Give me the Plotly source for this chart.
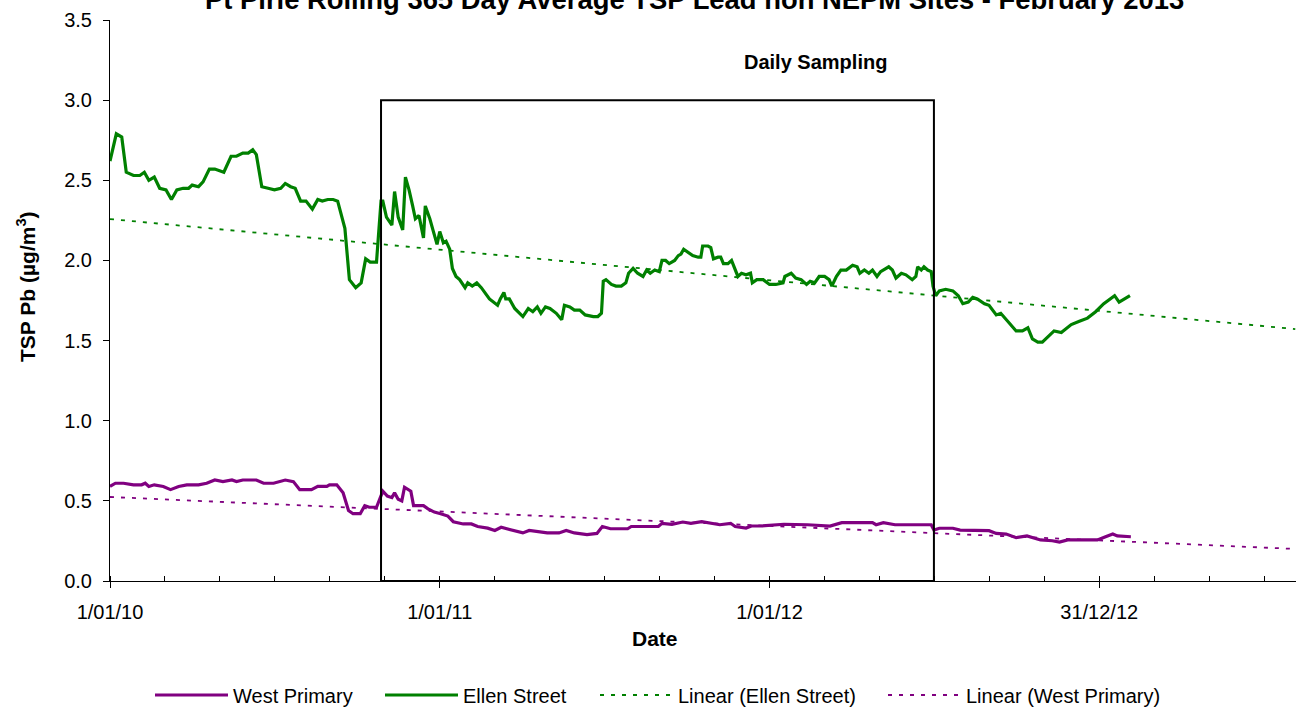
import pandas as pd
import plotly.graph_objects as go

# ---------------- data ----------------
# x positions are days since 1 Jan 2010
BASE_DATE = "2010-01-01"

ellen_days = [
    0, 7, 13, 18, 26, 33, 38, 43, 49, 55,
    62, 68, 74, 81, 87, 91, 98, 103, 110, 116,
    126, 134, 140, 147, 153, 158, 162, 168, 175, 182,
    189, 194, 200, 205, 211, 217, 224, 230, 235, 241,
    247, 252, 260, 265, 272, 278, 283, 288, 295, 300,
    302, 306, 312, 315, 319, 324, 327, 331, 335, 338,
    342, 347, 349, 354, 358, 362, 365, 369, 372, 376,
    379, 383, 387, 393, 396, 401, 406, 411, 420, 429,
    432, 436, 438, 442, 448, 457, 463, 468, 473, 477,
    482, 487, 494, 500, 503, 509, 514, 520, 526, 535,
    540, 544, 546, 549, 555, 560, 566, 571, 574, 579,
    584, 590, 594, 598, 603, 608, 611, 615, 619, 625,
    629, 632, 635, 640, 645, 651, 654, 656, 662, 665,
    668, 673, 676, 679, 684, 688, 691, 695, 699, 704,
    709, 711, 716, 719, 723, 730, 737, 745, 747, 754,
    759, 765, 771, 775, 780, 785, 791, 796, 799, 804,
    809, 815, 822, 827, 830, 835, 840, 844, 849, 853,
    862, 866, 870, 876, 881, 888, 892, 894, 898, 901,
    905, 909, 911, 914, 918, 925, 933, 939, 944, 950,
    955, 960, 968, 973, 981, 986, 994, 1003, 1010, 1016,
    1021, 1027, 1032, 1040, 1045, 1053, 1064, 1073, 1082, 1091,
    1100, 1112, 1117, 1129,
]
ellen_values = [
    2.62, 2.79, 2.77, 2.55, 2.53, 2.53, 2.55, 2.50, 2.52, 2.45,
    2.44, 2.38, 2.44, 2.45, 2.45, 2.47, 2.46, 2.49, 2.57, 2.57,
    2.55, 2.65, 2.65, 2.67, 2.67, 2.69, 2.66, 2.46, 2.45, 2.44,
    2.45, 2.48, 2.46, 2.45, 2.37, 2.37, 2.32, 2.38, 2.37, 2.38,
    2.38, 2.37, 2.20, 1.88, 1.83, 1.86, 2.01, 1.99, 1.99, 2.37,
    2.37, 2.27, 2.22, 2.43, 2.27, 2.19, 2.52, 2.44, 2.34, 2.26,
    2.28, 2.14, 2.34, 2.26, 2.18, 2.10, 2.18, 2.11, 2.12, 2.07,
    1.95, 1.90, 1.88, 1.83, 1.86, 1.84, 1.86, 1.83, 1.76, 1.72,
    1.76, 1.80, 1.76, 1.76, 1.70, 1.65, 1.70, 1.68, 1.71, 1.67,
    1.71, 1.70, 1.67, 1.63, 1.72, 1.71, 1.69, 1.69, 1.66, 1.65,
    1.65, 1.67, 1.87, 1.88, 1.85, 1.84, 1.84, 1.86, 1.92, 1.95,
    1.92, 1.90, 1.94, 1.92, 1.94, 1.93, 2.00, 2.00, 1.98, 2.00,
    2.03, 2.04, 2.07, 2.05, 2.03, 2.02, 2.02, 2.09, 2.09, 2.08,
    2.01, 2.02, 2.02, 1.98, 1.98, 2.00, 1.96, 1.90, 1.92, 1.91,
    1.92, 1.86, 1.88, 1.88, 1.88, 1.85, 1.85, 1.86, 1.90, 1.92,
    1.89, 1.88, 1.85, 1.87, 1.86, 1.90, 1.90, 1.88, 1.84, 1.90,
    1.94, 1.94, 1.97, 1.96, 1.92, 1.94, 1.92, 1.94, 1.90, 1.93,
    1.96, 1.94, 1.89, 1.92, 1.91, 1.88, 1.90, 1.96, 1.94, 1.96,
    1.94, 1.93, 1.84, 1.78, 1.81, 1.82, 1.81, 1.78, 1.73, 1.74,
    1.77, 1.76, 1.73, 1.72, 1.66, 1.67, 1.62, 1.56, 1.56, 1.58,
    1.51, 1.49, 1.49, 1.53, 1.56, 1.55, 1.60, 1.62, 1.64, 1.68,
    1.73, 1.78, 1.74, 1.78,
]

west_days = [
    0, 6, 15, 26, 35, 39, 43, 49, 59, 67,
    76, 85, 98, 107, 116, 125, 135, 140, 147, 162,
    170, 181, 194, 203, 210, 223, 230, 240, 243, 251,
    258, 264, 269, 277, 282, 287, 295, 302, 307, 312,
    315, 319, 323, 326, 333, 336, 341, 347, 352, 359,
    366, 374, 380, 391, 400, 407, 418, 426, 433, 446,
    457, 464, 472, 484, 497, 505, 514, 528, 539, 545,
    554, 573, 577, 607, 611, 622, 634, 643, 655, 666,
    675, 687, 692, 704, 710, 721, 746, 772, 797, 810,
    844, 848, 856, 869, 909, 912, 918, 933, 941, 973,
    981, 992, 1003, 1015, 1030, 1043, 1051, 1060, 1093, 1102,
    1110, 1115, 1130,
]
west_values = [
    0.59, 0.61, 0.61, 0.60, 0.60, 0.61, 0.59, 0.60, 0.59, 0.57,
    0.59, 0.60, 0.60, 0.61, 0.63, 0.62, 0.63, 0.62, 0.63, 0.63,
    0.61, 0.61, 0.63, 0.62, 0.57, 0.57, 0.59, 0.59, 0.60, 0.60,
    0.55, 0.44, 0.42, 0.42, 0.47, 0.46, 0.46, 0.56, 0.53, 0.52,
    0.55, 0.51, 0.50, 0.585, 0.56, 0.47, 0.47, 0.47, 0.45, 0.43,
    0.42, 0.405, 0.37, 0.356, 0.356, 0.34, 0.33, 0.315, 0.335, 0.315,
    0.30, 0.315, 0.31, 0.30, 0.30, 0.315, 0.30, 0.29, 0.297, 0.34,
    0.326, 0.326, 0.34, 0.34, 0.36, 0.354, 0.368, 0.36, 0.37, 0.36,
    0.351, 0.36, 0.34, 0.33, 0.343, 0.343, 0.354, 0.351, 0.343, 0.364,
    0.364, 0.351, 0.364, 0.351, 0.351, 0.318, 0.329, 0.329, 0.318, 0.314,
    0.297, 0.293, 0.27, 0.281, 0.256, 0.251, 0.243, 0.256, 0.256, 0.276,
    0.293, 0.281, 0.276,
]

# linear trend lines (end points)
trend_days = [0, 1312]
ellen_trend = [2.258, 1.572]
west_trend = [0.524, 0.200]

# daily sampling period (box)
sampling_start = "2010-10-28"
sampling_end = "2012-07-01"
sampling_top = 3.0

# axis ticks
x_tickvals = ["2010-01-01", "2011-01-01", "2012-01-01", "2012-12-31"]
x_ticktext = ["1/01/10", "1/01/11", "1/01/12", "31/12/12"]
y_tickvals = [0, 0.5, 1.0, 1.5, 2.0, 2.5, 3.0, 3.5]
x_range = ["2010-01-01", "2013-08-05 19:00"]
y_range = [0, 3.5]

title_text = "Pt Pirie Rolling 365 Day Average TSP Lead non NEPM Sites - February 2013"

# ---------------- figure ----------------
base = pd.Timestamp(BASE_DATE)
to_dates = lambda d: base + pd.to_timedelta(d, unit="D")

GREEN = "#008000"
PURPLE = "#800080"
FONT = "Liberation Sans, Arial, sans-serif"

fig = go.Figure()
fig.add_trace(go.Scatter(x=to_dates(west_days), y=west_values, mode="lines",
                         name="West Primary", line=dict(color=PURPLE, width=3.2),
                         legend="legend"))
fig.add_trace(go.Scatter(x=to_dates(ellen_days), y=ellen_values, mode="lines",
                         name="Ellen Street", line=dict(color=GREEN, width=3.2),
                         legend="legend2"))
fig.add_trace(go.Scatter(x=to_dates(trend_days), y=ellen_trend, mode="lines",
                         name="Linear (Ellen Street)",
                         line=dict(color=GREEN, width=1.8, dash="4px,7px"),
                         legend="legend3"))
fig.add_trace(go.Scatter(x=to_dates(trend_days), y=west_trend, mode="lines",
                         name="Linear (West Primary)",
                         line=dict(color=PURPLE, width=1.8, dash="4px,7px"),
                         legend="legend4"))

fig.add_shape(type="rect", xref="x", yref="y",
              x0=sampling_start, x1=sampling_end, y0=0, y1=sampling_top,
              line=dict(color="black", width=2), fillcolor="rgba(0,0,0,0)")

W, H = 1304, 707
ML, MR, MT, MB = 110, 8, 20, 126
PW, PH = W - ML - MR, H - MT - MB


def px_x(p):
    return (p - ML) / PW


def px_y(p):
    return (H - MB - p) / PH


fig.add_annotation(text="<b>" + title_text + "</b>", xref="paper", yref="paper",
                   x=px_x(694), y=px_y(-1), xanchor="center", yanchor="middle",
                   showarrow=False, font=dict(size=27.4, color="black", family=FONT))
fig.add_annotation(text="<b>Daily Sampling</b>", xref="paper", yref="paper",
                   x=px_x(815), y=px_y(62), xanchor="center", yanchor="middle",
                   showarrow=False, font=dict(size=20, color="black", family=FONT))
fig.add_annotation(text="<b>Date</b>", xref="paper", yref="paper",
                   x=px_x(655), y=px_y(638), xanchor="center", yanchor="middle",
                   showarrow=False, font=dict(size=21, color="black", family=FONT))
fig.add_annotation(text="<b>TSP Pb (µg/m<sup>3</sup>)</b>", xref="paper", yref="paper",
                   x=px_x(26), y=px_y(286), xanchor="center", yanchor="middle",
                   textangle=-90, showarrow=False,
                   font=dict(size=21, color="black", family=FONT))

legend_common = dict(orientation="h", yanchor="middle", xanchor="left",
                     y=px_y(695), font=dict(size=20, color="black", family=FONT),
                     bgcolor="rgba(0,0,0,0)", itemwidth=73, borderwidth=0)

fig.update_layout(
    width=W, height=H,
    margin=dict(l=ML, r=MR, t=MT, b=MB, pad=0, autoexpand=False),
    paper_bgcolor="white", plot_bgcolor="white",
    font=dict(family=FONT, size=20, color="black"),
    showlegend=True,
    legend=dict(x=px_x(150), **legend_common),
    legend2=dict(x=px_x(380), **legend_common),
    legend3=dict(x=px_x(595), **legend_common),
    legend4=dict(x=px_x(883), **legend_common),
    xaxis=dict(type="date", range=x_range, tickvals=x_tickvals, ticktext=x_ticktext,
               showline=True, linecolor="black", linewidth=1, mirror=False,
               ticks="outside", ticklen=6, tickcolor="black", showgrid=False,
               zeroline=False, tickfont=dict(size=20, family=FONT),
               ticklabelstandoff=7,
               minor=dict(ticks="inside", ticklen=5, tickcolor="black",
                          tick0="2010-01-01", dtick=60.8333 * 86400000,
                          showgrid=False)),
    yaxis=dict(range=y_range, tickvals=y_tickvals, tickformat=".1f",
               showline=True, linecolor="black", linewidth=1,
               ticks="outside", ticklen=6, tickcolor="black", showgrid=False,
               zeroline=False, tickfont=dict(size=20, family=FONT),
               ticklabelstandoff=7),
)

# remove the default 8px page margin so the figure fills the window exactly
fig.write_html("out.html",
               config={"displayModeBar": False},
               post_script="document.body.style.margin='0px';"
                           "document.body.style.overflow='hidden';")
